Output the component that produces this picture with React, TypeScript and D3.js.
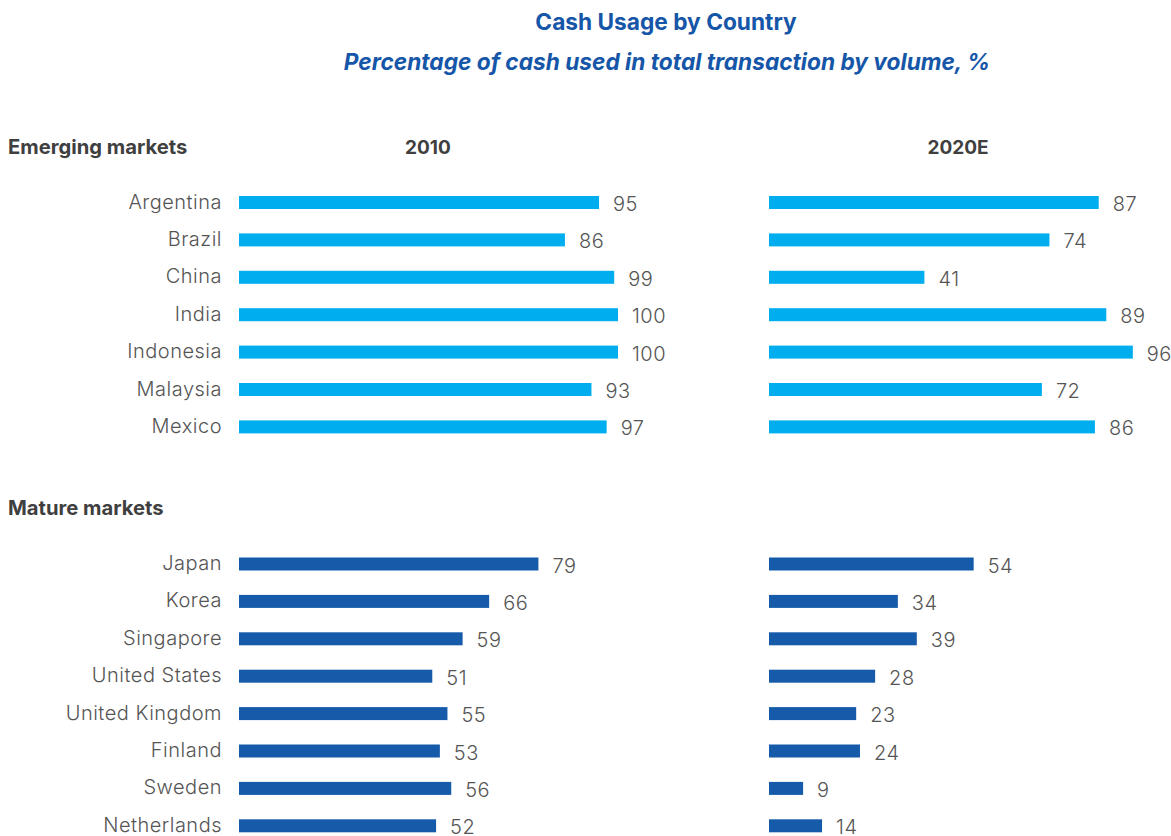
import React from "react";
import * as d3 from "d3";

const emergingCountries = ["Argentina", "Brazil", "China", "India", "Indonesia", "Malaysia", "Mexico"];
const emerging2010 = [95, 86, 99, 100, 100, 93, 97];
const emerging2020 = [87, 74, 41, 89, 96, 72, 86];

const matureCountries = ["Japan", "Korea", "Singapore", "United States", "United Kingdom", "Finland", "Sweden", "Netherlands"];
const mature2010 = [79, 66, 59, 51, 55, 53, 56, 52];
const mature2020 = [54, 34, 39, 28, 23, 24, 9, 14];

const yearLabels = ["2010", "2020E"];

const W = 1171;
const H = 836;
const FONT = "Inter, 'Open Sans', sans-serif";
const TITLE_BLUE = "#1656A8";
const LIGHT = "#00AEEF";
const DARK = "#155BAA";
const GREY = "#555555";
const HEAD = "#3f3f3f";

const x2010 = d3.scaleLinear().domain([0, 100]).range([239, 618]);
const x2020 = d3.scaleLinear().domain([0, 100]).range([769, 1148]);

const STEP = 37.4;
const BAR_H = 13;

function Group({ countries, v1, v2, top, color }: { countries: string[]; v1: number[]; v2: number[]; top: number; color: string }) {
  const y = d3
    .scaleBand<string>()
    .domain(countries)
    .range([top - STEP / 2, top - STEP / 2 + STEP * countries.length])
    .paddingInner(0)
    .paddingOuter(0);
  return (
    <g>
      {countries.map((c, i) => {
        const cy = (y(c) as number) + y.bandwidth() / 2;
        return (
          <g key={c}>
            <text x={222} y={cy} dy="0.3em" textAnchor="end" fontSize={20} letterSpacing={0.5} fill={GREY} fontFamily={FONT} fontWeight={300}>
              {c}
            </text>
            <rect x={x2010(0)} y={cy - BAR_H / 2} width={x2010(v1[i]) - x2010(0)} height={BAR_H} fill={color} />
            <text x={x2010(v1[i]) + 14} y={cy + 1.5} dy="0.35em" fontSize={20} letterSpacing={0.5} fill={GREY} fontFamily={FONT} fontWeight={300}>
              {v1[i]}
            </text>
            <rect x={x2020(0)} y={cy - BAR_H / 2} width={x2020(v2[i]) - x2020(0)} height={BAR_H} fill={color} />
            <text x={x2020(v2[i]) + 14} y={cy + 1.5} dy="0.35em" fontSize={20} letterSpacing={0.5} fill={GREY} fontFamily={FONT} fontWeight={300}>
              {v2[i]}
            </text>
          </g>
        );
      })}
    </g>
  );
}

export default function App() {
  return (
    <svg width={W} height={H} style={{ position: "absolute", left: 0, top: 0, background: "#fff" }}>
      <text x={666} y={22} dy="0.35em" textAnchor="middle" fontSize={22.7} fontWeight={700} fill={TITLE_BLUE} fontFamily={FONT}>
        Cash Usage by Country
      </text>
      <text x={667} y={62} dy="0.35em" textAnchor="middle" fontSize={22.7} fontWeight={700} fontStyle="italic" fill={TITLE_BLUE} fontFamily={FONT}>
        Percentage of cash used in total transaction by volume, %
      </text>
      <text x={8} y={147} dy="0.35em" fontSize={20.2} fontWeight={700} fill={HEAD} fontFamily={FONT}>
        Emerging markets
      </text>
      <text x={428} y={147} dy="0.35em" textAnchor="middle" fontSize={19} fontWeight={700} fill={HEAD} fontFamily={FONT}>
        {yearLabels[0]}
      </text>
      <text x={958} y={147} dy="0.35em" textAnchor="middle" fontSize={19} fontWeight={700} fill={HEAD} fontFamily={FONT}>
        {yearLabels[1]}
      </text>
      <text x={8} y={508} dy="0.35em" fontSize={20.2} fontWeight={700} fill={HEAD} fontFamily={FONT}>
        Mature markets
      </text>
      <Group countries={emergingCountries} v1={emerging2010} v2={emerging2020} top={202.5} color={LIGHT} />
      <Group countries={matureCountries} v1={mature2010} v2={mature2020} top={564} color={DARK} />
    </svg>
  );
}
